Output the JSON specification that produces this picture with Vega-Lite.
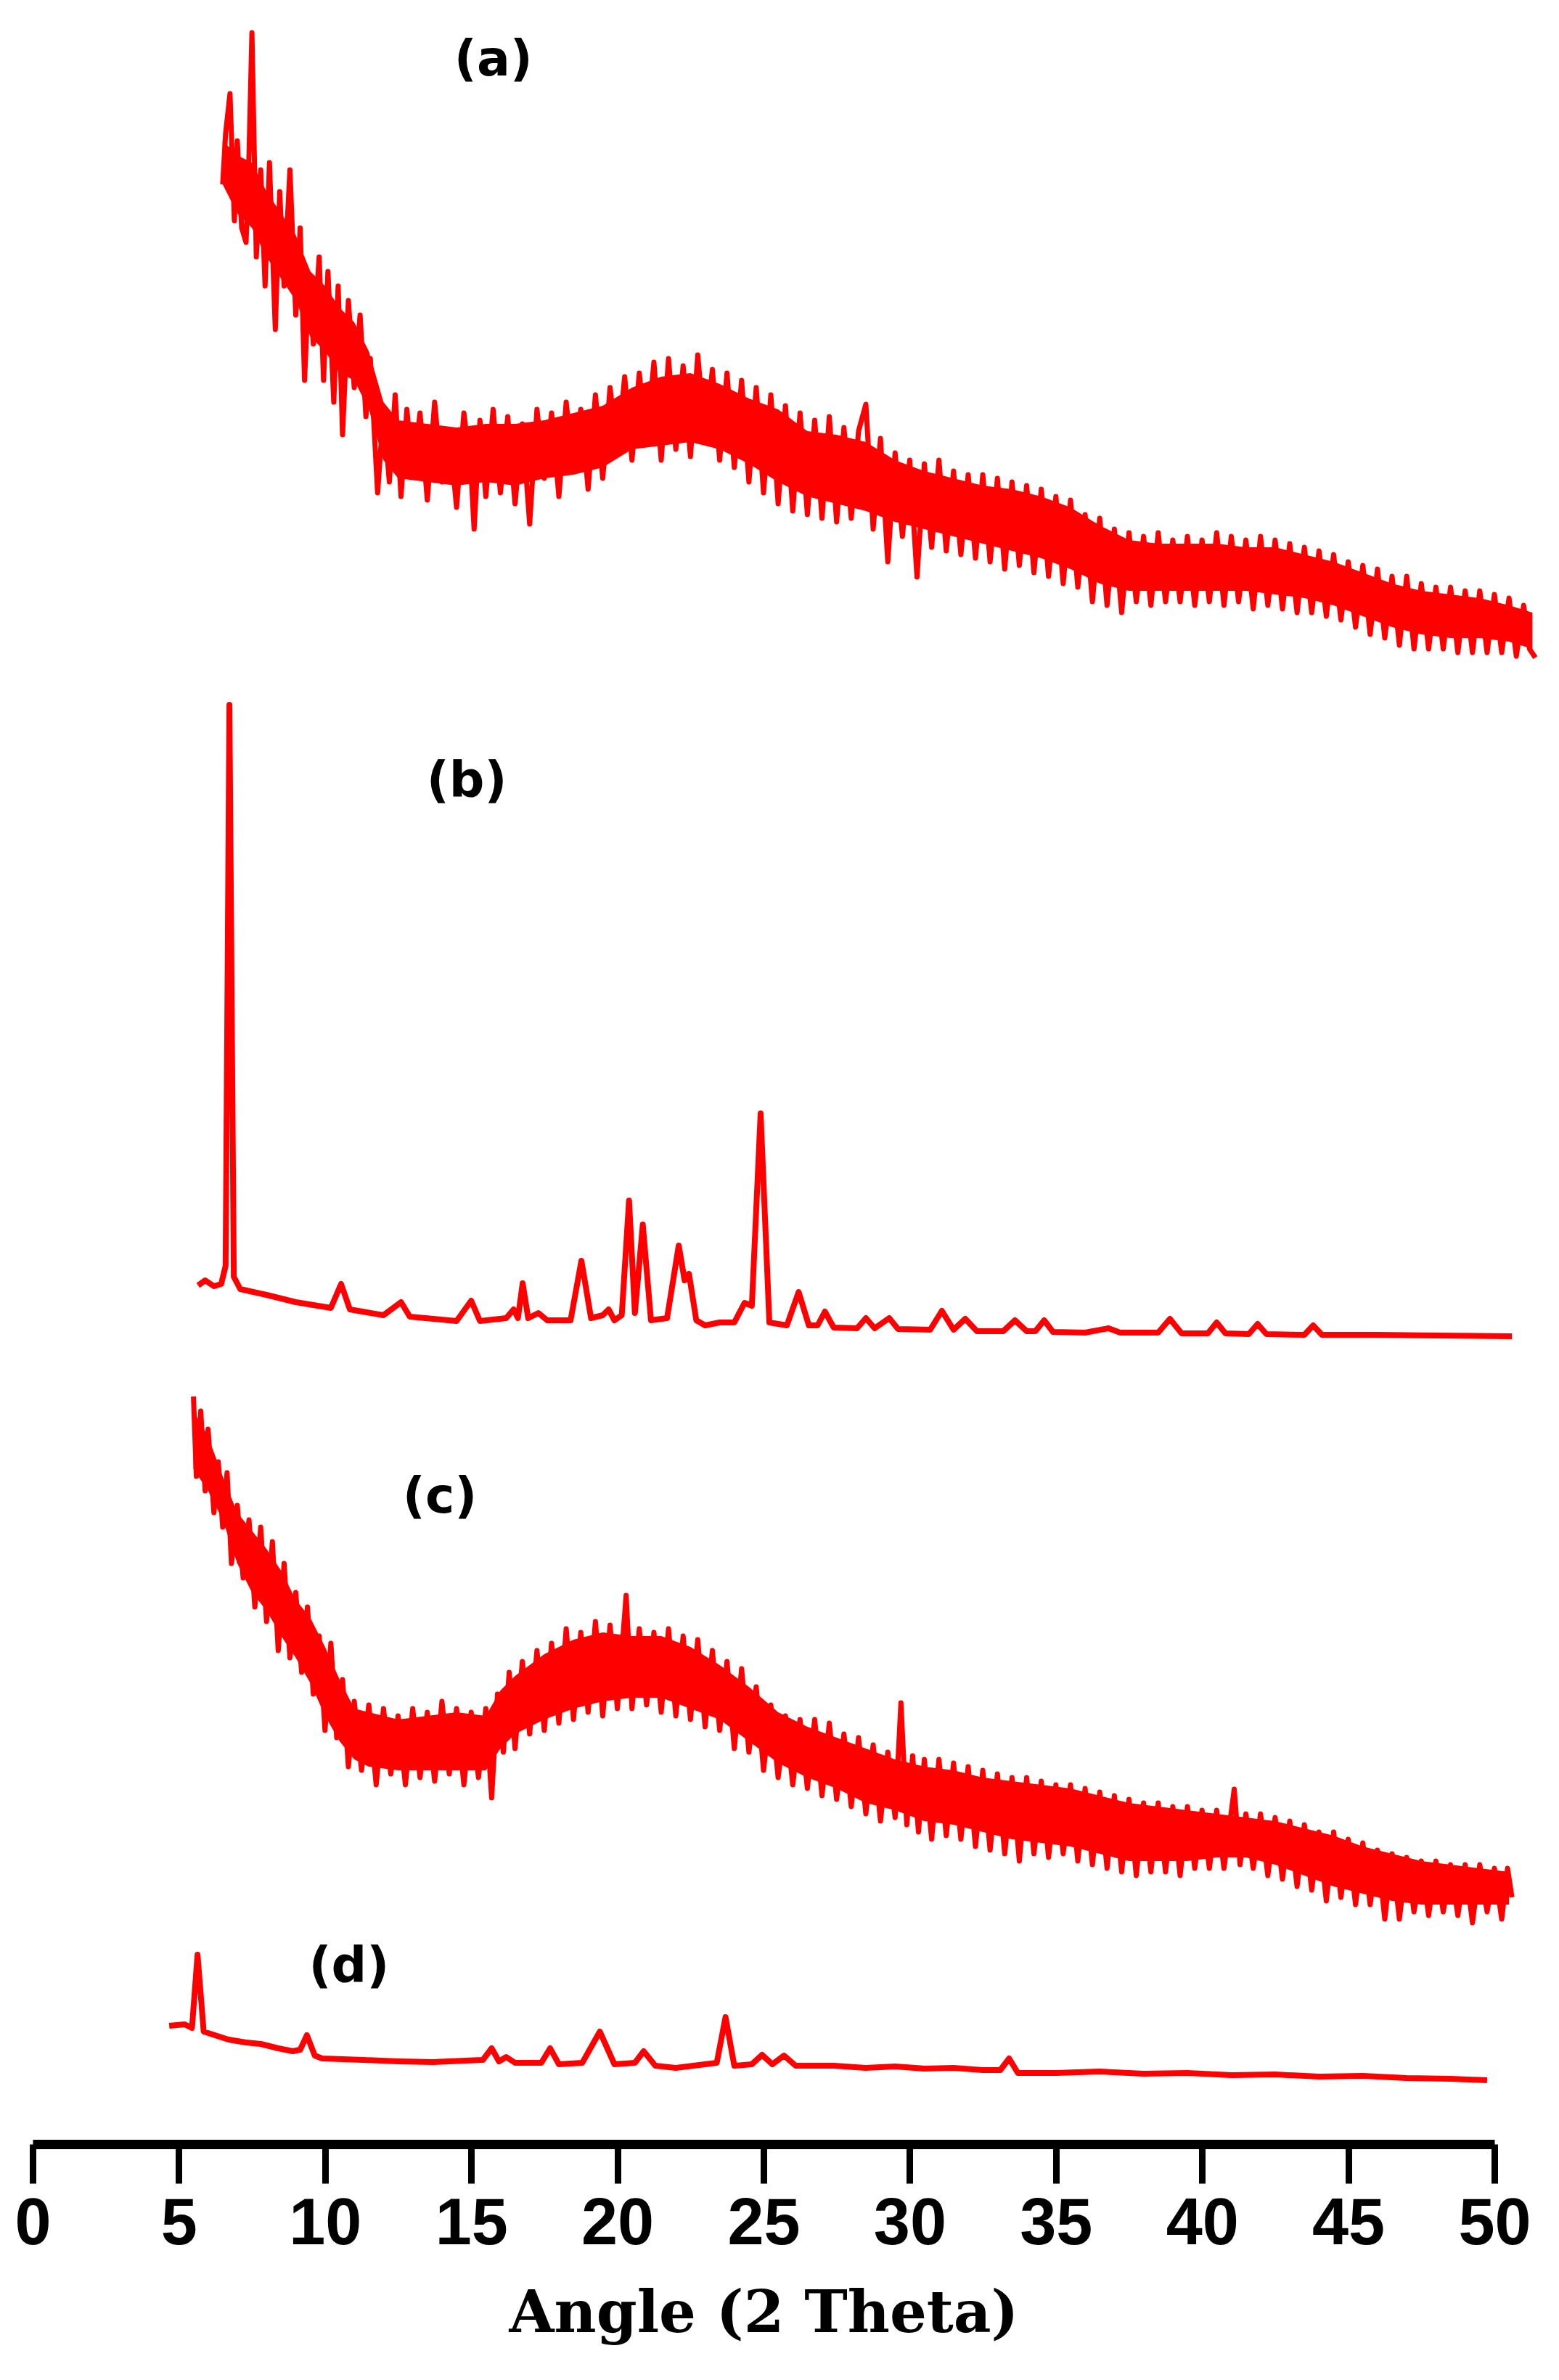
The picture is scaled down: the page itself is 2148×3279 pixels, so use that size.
{
"$schema": "https://vega.github.io/schema/vega-lite/v6.json",
"width": 2014,
"height": 2950,
"autosize": {"type": "none"},
"padding": {"left": 45, "top": 4, "right": 89, "bottom": 325},
"background": "white",
"config": {"view": {"stroke": null}},
"datasets": {
"a": [
{"angle":6.5,"intensity":2700},{"angle":6.6,"intensity":2770},{"angle":6.75,"intensity":2825},{"angle":6.9,"intensity":2650},{"angle":7.0,"intensity":2760},{"angle":7.15,"intensity":2640},{"angle":7.3,"intensity":2620},{"angle":7.4,"intensity":2740},{"angle":7.5,"intensity":2909},{"angle":7.65,"intensity":2600},{"angle":7.8,"intensity":2720},{"angle":7.95,"intensity":2560},{"angle":8.1,"intensity":2730},{"angle":8.3,"intensity":2500},{"angle":8.45,"intensity":2690},{"angle":8.6,"intensity":2560},{"angle":8.8,"intensity":2720},{"angle":9.0,"intensity":2520},{"angle":9.15,"intensity":2640},{"angle":9.3,"intensity":2430},{"angle":9.45,"intensity":2570},{"angle":9.6,"intensity":2480},{"angle":9.8,"intensity":2600},{"angle":9.95,"intensity":2430},{"angle":10.1,"intensity":2580},{"angle":10.3,"intensity":2400},{"angle":10.45,"intensity":2560},{"angle":10.6,"intensity":2355},{"angle":10.8,"intensity":2540},{"angle":11.0,"intensity":2420},{"angle":11.2,"intensity":2520},{"angle":11.4,"intensity":2380},{"angle":11.55,"intensity":2460},{"angle":11.8,"intensity":2275},{"angle":12.0,"intensity":2390},{"angle":12.2,"intensity":2290},{"angle":12.4,"intensity":2410},{"angle":12.6,"intensity":2270},{"angle":12.8,"intensity":2390},{"angle":13.0,"intensity":2300},{"angle":13.25,"intensity":2385},{"angle":13.5,"intensity":2265},{"angle":13.75,"intensity":2400},{"angle":14.0,"intensity":2290},{"angle":14.25,"intensity":2360},{"angle":14.5,"intensity":2255},{"angle":14.75,"intensity":2385},{"angle":15.0,"intensity":2300},{"angle":15.1,"intensity":2225},{"angle":15.3,"intensity":2375},{"angle":15.5,"intensity":2270},{"angle":15.75,"intensity":2390},{"angle":16.0,"intensity":2275},{"angle":16.25,"intensity":2380},{"angle":16.5,"intensity":2260},{"angle":16.75,"intensity":2370},{"angle":17.0,"intensity":2232},{"angle":17.25,"intensity":2390},{"angle":17.5,"intensity":2295},{"angle":17.75,"intensity":2385},{"angle":18.0,"intensity":2270},{"angle":18.25,"intensity":2400},{"angle":18.5,"intensity":2305},{"angle":18.75,"intensity":2390},{"angle":19.0,"intensity":2280},{"angle":19.25,"intensity":2410},{"angle":19.5,"intensity":2295},{"angle":19.75,"intensity":2420},{"angle":20.0,"intensity":2330},{"angle":20.25,"intensity":2435},{"angle":20.5,"intensity":2320},{"angle":20.75,"intensity":2440},{"angle":21.0,"intensity":2345},{"angle":21.25,"intensity":2455},{"angle":21.5,"intensity":2320},{"angle":21.75,"intensity":2460},{"angle":22.0,"intensity":2335},{"angle":22.25,"intensity":2450},{"angle":22.5,"intensity":2325},{"angle":22.75,"intensity":2465},{"angle":23.0,"intensity":2350},{"angle":23.25,"intensity":2445},{"angle":23.5,"intensity":2320},{"angle":23.75,"intensity":2440},{"angle":24.0,"intensity":2310},{"angle":24.25,"intensity":2430},{"angle":24.5,"intensity":2290},{"angle":24.75,"intensity":2420},{"angle":25.0,"intensity":2275},{"angle":25.25,"intensity":2410},{"angle":25.5,"intensity":2260},{"angle":25.75,"intensity":2395},{"angle":26.0,"intensity":2250},{"angle":26.25,"intensity":2385},{"angle":26.5,"intensity":2245},{"angle":26.75,"intensity":2375},{"angle":27.0,"intensity":2240},{"angle":27.25,"intensity":2380},{"angle":27.5,"intensity":2235},{"angle":27.75,"intensity":2365},{"angle":28.0,"intensity":2240},{"angle":28.25,"intensity":2360},{"angle":28.5,"intensity":2397},{"angle":28.75,"intensity":2225},{"angle":29.0,"intensity":2350},{"angle":29.25,"intensity":2180},{"angle":29.5,"intensity":2330},{"angle":29.75,"intensity":2215},{"angle":30.0,"intensity":2320},{"angle":30.25,"intensity":2159},{"angle":30.5,"intensity":2315},{"angle":30.75,"intensity":2200},{"angle":31.0,"intensity":2320},{"angle":31.25,"intensity":2195},{"angle":31.5,"intensity":2305},{"angle":31.75,"intensity":2190},{"angle":32.0,"intensity":2300},{"angle":32.25,"intensity":2185},{"angle":32.5,"intensity":2300},{"angle":32.75,"intensity":2180},{"angle":33.0,"intensity":2295},{"angle":33.25,"intensity":2170},{"angle":33.5,"intensity":2290},{"angle":33.75,"intensity":2175},{"angle":34.0,"intensity":2285},{"angle":34.25,"intensity":2165},{"angle":34.5,"intensity":2280},{"angle":34.75,"intensity":2160},{"angle":35.0,"intensity":2270},{"angle":35.25,"intensity":2150},{"angle":35.5,"intensity":2265},{"angle":35.75,"intensity":2145},{"angle":36.0,"intensity":2245},{"angle":36.25,"intensity":2125},{"angle":36.5,"intensity":2240},{"angle":36.75,"intensity":2120},{"angle":37.0,"intensity":2225},{"angle":37.25,"intensity":2110},{"angle":37.5,"intensity":2220},{"angle":37.75,"intensity":2125},{"angle":38.0,"intensity":2215},{"angle":38.25,"intensity":2120},{"angle":38.5,"intensity":2220},{"angle":38.75,"intensity":2125},{"angle":39.0,"intensity":2210},{"angle":39.25,"intensity":2125},{"angle":39.5,"intensity":2215},{"angle":39.75,"intensity":2120},{"angle":40.0,"intensity":2210},{"angle":40.25,"intensity":2125},{"angle":40.5,"intensity":2220},{"angle":40.75,"intensity":2120},{"angle":41.0,"intensity":2215},{"angle":41.25,"intensity":2125},{"angle":41.5,"intensity":2210},{"angle":41.75,"intensity":2115},{"angle":42.0,"intensity":2215},{"angle":42.25,"intensity":2120},{"angle":42.5,"intensity":2210},{"angle":42.75,"intensity":2115},{"angle":43.0,"intensity":2205},{"angle":43.25,"intensity":2110},{"angle":43.5,"intensity":2200},{"angle":43.75,"intensity":2110},{"angle":44.0,"intensity":2195},{"angle":44.25,"intensity":2105},{"angle":44.5,"intensity":2190},{"angle":44.75,"intensity":2100},{"angle":45.0,"intensity":2180},{"angle":45.25,"intensity":2090},{"angle":45.5,"intensity":2175},{"angle":45.75,"intensity":2080},{"angle":46.0,"intensity":2170},{"angle":46.25,"intensity":2075},{"angle":46.5,"intensity":2160},{"angle":46.75,"intensity":2065},{"angle":47.0,"intensity":2160},{"angle":47.25,"intensity":2060},{"angle":47.5,"intensity":2150},{"angle":47.75,"intensity":2060},{"angle":48.0,"intensity":2145},{"angle":48.25,"intensity":2060},{"angle":48.5,"intensity":2145},{"angle":48.75,"intensity":2055},{"angle":49.0,"intensity":2140},{"angle":49.25,"intensity":2055},{"angle":49.5,"intensity":2140},{"angle":49.75,"intensity":2055},{"angle":50.0,"intensity":2135},{"angle":50.25,"intensity":2055},{"angle":50.5,"intensity":2130},{"angle":50.75,"intensity":2050},{"angle":51.0,"intensity":2120},{"angle":51.2,"intensity":2060},{"angle":51.4,"intensity":2048}
],
"aband": [
{"angle":6.5,"lo":2700,"hi":2760},{"angle":7.0,"lo":2660,"hi":2740},{"angle":7.5,"lo":2640,"hi":2730},{"angle":8.0,"lo":2600,"hi":2690},{"angle":8.5,"lo":2570,"hi":2660},{"angle":9.0,"lo":2540,"hi":2630},{"angle":9.5,"lo":2490,"hi":2580},{"angle":10.0,"lo":2470,"hi":2560},{"angle":10.5,"lo":2440,"hi":2530},{"angle":11.0,"lo":2430,"hi":2510},{"angle":11.5,"lo":2390,"hi":2470},{"angle":12.0,"lo":2320,"hi":2400},{"angle":12.5,"lo":2295,"hi":2375},{"angle":13.5,"lo":2290,"hi":2370},{"angle":14.5,"lo":2285,"hi":2365},{"angle":15.5,"lo":2290,"hi":2370},{"angle":16.5,"lo":2285,"hi":2370},{"angle":17.5,"lo":2295,"hi":2375},{"angle":18.5,"lo":2300,"hi":2385},{"angle":19.5,"lo":2310,"hi":2395},{"angle":20.5,"lo":2335,"hi":2420},{"angle":21.5,"lo":2340,"hi":2435},{"angle":22.5,"lo":2345,"hi":2440},{"angle":23.5,"lo":2335,"hi":2425},{"angle":24.5,"lo":2315,"hi":2405},{"angle":25.5,"lo":2290,"hi":2390},{"angle":26.5,"lo":2270,"hi":2360},{"angle":27.5,"lo":2260,"hi":2355},{"angle":28.5,"lo":2250,"hi":2345},{"angle":29.5,"lo":2235,"hi":2320},{"angle":30.5,"lo":2225,"hi":2305},{"angle":31.5,"lo":2215,"hi":2295},{"angle":32.5,"lo":2205,"hi":2285},{"angle":33.5,"lo":2195,"hi":2280},{"angle":34.5,"lo":2185,"hi":2270},{"angle":35.5,"lo":2170,"hi":2255},{"angle":36.5,"lo":2150,"hi":2230},{"angle":37.5,"lo":2140,"hi":2210},{"angle":38.5,"lo":2140,"hi":2205},{"angle":39.5,"lo":2140,"hi":2205},{"angle":40.5,"lo":2140,"hi":2205},{"angle":41.5,"lo":2140,"hi":2200},{"angle":42.5,"lo":2135,"hi":2200},{"angle":43.5,"lo":2130,"hi":2190},{"angle":44.5,"lo":2120,"hi":2180},{"angle":45.5,"lo":2105,"hi":2165},{"angle":46.5,"lo":2090,"hi":2150},{"angle":47.5,"lo":2080,"hi":2140},{"angle":48.5,"lo":2075,"hi":2135},{"angle":49.5,"lo":2075,"hi":2130},{"angle":50.5,"lo":2070,"hi":2120},{"angle":51.3,"lo":2060,"hi":2110}
],
"b": [
{"angle":5.66,"intensity":1183},{"angle":5.9,"intensity":1190},{"angle":6.2,"intensity":1182},{"angle":6.45,"intensity":1185},{"angle":6.6,"intensity":1210},{"angle":6.73,"intensity":1983},{"angle":6.88,"intensity":1195},{"angle":7.1,"intensity":1178},{"angle":8.0,"intensity":1170},{"angle":9.0,"intensity":1160},{"angle":10.2,"intensity":1152},{"angle":10.55,"intensity":1185},{"angle":10.85,"intensity":1150},{"angle":12.0,"intensity":1142},{"angle":12.6,"intensity":1160},{"angle":12.9,"intensity":1140},{"angle":14.5,"intensity":1134},{"angle":15.0,"intensity":1162},{"angle":15.3,"intensity":1134},{"angle":16.2,"intensity":1138},{"angle":16.45,"intensity":1150},{"angle":16.6,"intensity":1138},{"angle":16.76,"intensity":1186},{"angle":16.95,"intensity":1138},{"angle":17.3,"intensity":1145},{"angle":17.6,"intensity":1135},{"angle":18.4,"intensity":1135},{"angle":18.77,"intensity":1217},{"angle":19.1,"intensity":1138},{"angle":19.5,"intensity":1142},{"angle":19.7,"intensity":1150},{"angle":19.9,"intensity":1135},{"angle":20.15,"intensity":1142},{"angle":20.4,"intensity":1300},{"angle":20.6,"intensity":1145},{"angle":20.87,"intensity":1267},{"angle":21.15,"intensity":1135},{"angle":21.7,"intensity":1138},{"angle":22.1,"intensity":1238},{"angle":22.3,"intensity":1190},{"angle":22.45,"intensity":1199},{"angle":22.7,"intensity":1135},{"angle":23.0,"intensity":1128},{"angle":23.5,"intensity":1132},{"angle":24.0,"intensity":1132},{"angle":24.35,"intensity":1159},{"angle":24.6,"intensity":1155},{"angle":24.9,"intensity":1420},{"angle":25.2,"intensity":1132},{"angle":25.8,"intensity":1128},{"angle":26.2,"intensity":1174},{"angle":26.55,"intensity":1128},{"angle":26.85,"intensity":1128},{"angle":27.1,"intensity":1147},{"angle":27.4,"intensity":1125},{"angle":28.2,"intensity":1124},{"angle":28.5,"intensity":1138},{"angle":28.8,"intensity":1124},{"angle":29.3,"intensity":1138},{"angle":29.6,"intensity":1123},{"angle":30.7,"intensity":1122},{"angle":31.1,"intensity":1148},{"angle":31.5,"intensity":1122},{"angle":31.9,"intensity":1137},{"angle":32.3,"intensity":1120},{"angle":33.2,"intensity":1120},{"angle":33.6,"intensity":1135},{"angle":34.0,"intensity":1120},{"angle":34.3,"intensity":1120},{"angle":34.6,"intensity":1135},{"angle":34.9,"intensity":1119},{"angle":36.0,"intensity":1118},{"angle":36.8,"intensity":1124},{"angle":37.2,"intensity":1118},{"angle":38.5,"intensity":1118},{"angle":38.9,"intensity":1137},{"angle":39.3,"intensity":1117},{"angle":40.2,"intensity":1117},{"angle":40.5,"intensity":1132},{"angle":40.8,"intensity":1117},{"angle":41.6,"intensity":1116},{"angle":41.9,"intensity":1130},{"angle":42.2,"intensity":1116},{"angle":43.5,"intensity":1115},{"angle":43.8,"intensity":1128},{"angle":44.1,"intensity":1115},{"angle":46.0,"intensity":1115},{"angle":48.0,"intensity":1114},{"angle":50.6,"intensity":1113}
],
"c": [
{"angle":5.5,"intensity":1030},{"angle":5.6,"intensity":920},{"angle":5.75,"intensity":1010},{"angle":5.9,"intensity":900},{"angle":6.0,"intensity":985},{"angle":6.2,"intensity":870},{"angle":6.35,"intensity":940},{"angle":6.5,"intensity":850},{"angle":6.65,"intensity":925},{"angle":6.8,"intensity":800},{"angle":7.0,"intensity":880},{"angle":7.2,"intensity":780},{"angle":7.4,"intensity":860},{"angle":7.6,"intensity":740},{"angle":7.8,"intensity":850},{"angle":8.0,"intensity":720},{"angle":8.2,"intensity":830},{"angle":8.4,"intensity":680},{"angle":8.6,"intensity":800},{"angle":8.8,"intensity":670},{"angle":9.0,"intensity":760},{"angle":9.2,"intensity":650},{"angle":9.4,"intensity":740},{"angle":9.6,"intensity":620},{"angle":9.8,"intensity":700},{"angle":10.0,"intensity":570},{"angle":10.2,"intensity":690},{"angle":10.4,"intensity":560},{"angle":10.6,"intensity":640},{"angle":10.8,"intensity":520},{"angle":11.0,"intensity":610},{"angle":11.25,"intensity":515},{"angle":11.5,"intensity":605},{"angle":11.75,"intensity":495},{"angle":12.0,"intensity":600},{"angle":12.25,"intensity":510},{"angle":12.5,"intensity":590},{"angle":12.75,"intensity":495},{"angle":13.0,"intensity":600},{"angle":13.25,"intensity":505},{"angle":13.5,"intensity":595},{"angle":13.75,"intensity":500},{"angle":14.0,"intensity":610},{"angle":14.25,"intensity":510},{"angle":14.5,"intensity":600},{"angle":14.75,"intensity":495},{"angle":15.0,"intensity":595},{"angle":15.25,"intensity":505},{"angle":15.5,"intensity":600},{"angle":15.7,"intensity":477},{"angle":15.9,"intensity":620},{"angle":16.1,"intensity":540},{"angle":16.3,"intensity":650},{"angle":16.5,"intensity":545},{"angle":16.75,"intensity":665},{"angle":17.0,"intensity":565},{"angle":17.25,"intensity":680},{"angle":17.5,"intensity":570},{"angle":17.75,"intensity":690},{"angle":18.0,"intensity":580},{"angle":18.25,"intensity":710},{"angle":18.5,"intensity":585},{"angle":18.75,"intensity":705},{"angle":19.0,"intensity":595},{"angle":19.25,"intensity":720},{"angle":19.5,"intensity":590},{"angle":19.75,"intensity":715},{"angle":20.0,"intensity":600},{"angle":20.3,"intensity":756},{"angle":20.5,"intensity":600},{"angle":20.75,"intensity":710},{"angle":21.0,"intensity":605},{"angle":21.25,"intensity":705},{"angle":21.5,"intensity":595},{"angle":21.75,"intensity":710},{"angle":22.0,"intensity":590},{"angle":22.25,"intensity":700},{"angle":22.5,"intensity":585},{"angle":22.75,"intensity":695},{"angle":23.0,"intensity":575},{"angle":23.25,"intensity":680},{"angle":23.5,"intensity":570},{"angle":23.75,"intensity":665},{"angle":24.0,"intensity":545},{"angle":24.25,"intensity":655},{"angle":24.5,"intensity":540},{"angle":24.75,"intensity":630},{"angle":25.0,"intensity":515},{"angle":25.25,"intensity":605},{"angle":25.5,"intensity":505},{"angle":25.75,"intensity":590},{"angle":26.0,"intensity":495},{"angle":26.25,"intensity":585},{"angle":26.5,"intensity":490},{"angle":26.75,"intensity":585},{"angle":27.0,"intensity":480},{"angle":27.25,"intensity":580},{"angle":27.5,"intensity":475},{"angle":27.75,"intensity":565},{"angle":28.0,"intensity":465},{"angle":28.25,"intensity":560},{"angle":28.5,"intensity":455},{"angle":28.75,"intensity":550},{"angle":29.0,"intensity":445},{"angle":29.25,"intensity":540},{"angle":29.5,"intensity":450},{"angle":29.7,"intensity":608},{"angle":29.9,"intensity":440},{"angle":30.1,"intensity":535},{"angle":30.3,"intensity":430},{"angle":30.5,"intensity":530},{"angle":30.75,"intensity":420},{"angle":31.0,"intensity":530},{"angle":31.25,"intensity":425},{"angle":31.5,"intensity":525},{"angle":31.75,"intensity":420},{"angle":32.0,"intensity":520},{"angle":32.25,"intensity":410},{"angle":32.5,"intensity":515},{"angle":32.75,"intensity":405},{"angle":33.0,"intensity":510},{"angle":33.25,"intensity":400},{"angle":33.5,"intensity":505},{"angle":33.75,"intensity":390},{"angle":34.0,"intensity":505},{"angle":34.25,"intensity":400},{"angle":34.5,"intensity":500},{"angle":34.75,"intensity":395},{"angle":35.0,"intensity":495},{"angle":35.25,"intensity":400},{"angle":35.5,"intensity":495},{"angle":35.75,"intensity":390},{"angle":36.0,"intensity":490},{"angle":36.25,"intensity":385},{"angle":36.5,"intensity":485},{"angle":36.75,"intensity":380},{"angle":37.0,"intensity":480},{"angle":37.25,"intensity":375},{"angle":37.5,"intensity":475},{"angle":37.75,"intensity":370},{"angle":38.0,"intensity":470},{"angle":38.25,"intensity":375},{"angle":38.5,"intensity":470},{"angle":38.75,"intensity":375},{"angle":39.0,"intensity":465},{"angle":39.25,"intensity":370},{"angle":39.5,"intensity":465},{"angle":39.75,"intensity":380},{"angle":40.0,"intensity":460},{"angle":40.25,"intensity":380},{"angle":40.5,"intensity":460},{"angle":40.75,"intensity":380},{"angle":41.1,"intensity":489},{"angle":41.3,"intensity":385},{"angle":41.5,"intensity":455},{"angle":41.75,"intensity":380},{"angle":42.0,"intensity":455},{"angle":42.25,"intensity":370},{"angle":42.5,"intensity":450},{"angle":42.75,"intensity":365},{"angle":43.0,"intensity":445},{"angle":43.25,"intensity":355},{"angle":43.5,"intensity":440},{"angle":43.75,"intensity":350},{"angle":44.0,"intensity":430},{"angle":44.25,"intensity":335},{"angle":44.5,"intensity":430},{"angle":44.75,"intensity":340},{"angle":45.0,"intensity":420},{"angle":45.25,"intensity":330},{"angle":45.5,"intensity":415},{"angle":45.75,"intensity":330},{"angle":46.0,"intensity":405},{"angle":46.25,"intensity":310},{"angle":46.5,"intensity":400},{"angle":46.75,"intensity":310},{"angle":47.0,"intensity":395},{"angle":47.25,"intensity":320},{"angle":47.5,"intensity":390},{"angle":47.75,"intensity":315},{"angle":48.0,"intensity":390},{"angle":48.25,"intensity":320},{"angle":48.5,"intensity":385},{"angle":48.75,"intensity":315},{"angle":49.0,"intensity":385},{"angle":49.25,"intensity":305},{"angle":49.5,"intensity":385},{"angle":49.75,"intensity":320},{"angle":50.0,"intensity":380},{"angle":50.25,"intensity":310},{"angle":50.45,"intensity":380},{"angle":50.6,"intensity":340}
],
"cband": [
{"angle":5.5,"lo":930,"hi":1010},{"angle":6.0,"lo":900,"hi":975},{"angle":6.5,"lo":860,"hi":920},{"angle":7.0,"lo":800,"hi":870},{"angle":7.5,"lo":760,"hi":845},{"angle":8.0,"lo":735,"hi":820},{"angle":8.5,"lo":700,"hi":790},{"angle":9.0,"lo":670,"hi":750},{"angle":9.5,"lo":635,"hi":725},{"angle":10.0,"lo":590,"hi":685},{"angle":10.5,"lo":555,"hi":640},{"angle":11.0,"lo":530,"hi":600},{"angle":11.5,"lo":520,"hi":595},{"angle":12.5,"lo":515,"hi":585},{"angle":13.5,"lo":515,"hi":590},{"angle":14.5,"lo":515,"hi":595},{"angle":15.5,"lo":515,"hi":590},{"angle":16.0,"lo":545,"hi":625},{"angle":16.5,"lo":565,"hi":645},{"angle":17.5,"lo":585,"hi":675},{"angle":18.5,"lo":600,"hi":695},{"angle":19.5,"lo":610,"hi":705},{"angle":20.5,"lo":615,"hi":700},{"angle":21.5,"lo":615,"hi":700},{"angle":22.5,"lo":600,"hi":685},{"angle":23.5,"lo":585,"hi":660},{"angle":24.5,"lo":555,"hi":630},{"angle":25.5,"lo":525,"hi":595},{"angle":26.5,"lo":505,"hi":575},{"angle":27.5,"lo":490,"hi":560},{"angle":28.5,"lo":470,"hi":545},{"angle":29.5,"lo":460,"hi":530},{"angle":30.5,"lo":445,"hi":520},{"angle":31.5,"lo":440,"hi":515},{"angle":32.5,"lo":430,"hi":505},{"angle":33.5,"lo":420,"hi":500},{"angle":34.5,"lo":415,"hi":495},{"angle":35.5,"lo":410,"hi":490},{"angle":36.5,"lo":400,"hi":480},{"angle":37.5,"lo":390,"hi":470},{"angle":38.5,"lo":390,"hi":465},{"angle":39.5,"lo":390,"hi":460},{"angle":40.5,"lo":395,"hi":455},{"angle":41.5,"lo":395,"hi":450},{"angle":42.5,"lo":385,"hi":445},{"angle":43.5,"lo":370,"hi":435},{"angle":44.5,"lo":355,"hi":425},{"angle":45.5,"lo":345,"hi":410},{"angle":46.5,"lo":335,"hi":400},{"angle":47.5,"lo":330,"hi":390},{"angle":48.5,"lo":330,"hi":385},{"angle":49.5,"lo":330,"hi":380},{"angle":50.5,"lo":330,"hi":375}
],
"d": [
{"angle":4.67,"intensity":163},{"angle":5.2,"intensity":165},{"angle":5.45,"intensity":160},{"angle":5.64,"intensity":261},{"angle":5.85,"intensity":155},{"angle":6.7,"intensity":144},{"angle":7.3,"intensity":140},{"angle":7.8,"intensity":138},{"angle":8.4,"intensity":132},{"angle":8.9,"intensity":128},{"angle":9.15,"intensity":130},{"angle":9.38,"intensity":150},{"angle":9.65,"intensity":122},{"angle":9.9,"intensity":118},{"angle":11.3,"intensity":116},{"angle":12.5,"intensity":114},{"angle":13.7,"intensity":113},{"angle":14.8,"intensity":115},{"angle":15.4,"intensity":116},{"angle":15.7,"intensity":132},{"angle":15.95,"intensity":114},{"angle":16.2,"intensity":120},{"angle":16.5,"intensity":112},{"angle":17.4,"intensity":112},{"angle":17.7,"intensity":132},{"angle":18.0,"intensity":110},{"angle":18.8,"intensity":112},{"angle":19.4,"intensity":155},{"angle":19.9,"intensity":110},{"angle":20.6,"intensity":112},{"angle":20.9,"intensity":128},{"angle":21.3,"intensity":108},{"angle":22.0,"intensity":105},{"angle":23.0,"intensity":110},{"angle":23.4,"intensity":112},{"angle":23.7,"intensity":175},{"angle":24.0,"intensity":108},{"angle":24.6,"intensity":110},{"angle":24.95,"intensity":123},{"angle":25.3,"intensity":110},{"angle":25.7,"intensity":122},{"angle":26.1,"intensity":108},{"angle":27.4,"intensity":108},{"angle":28.5,"intensity":105},{"angle":29.5,"intensity":107},{"angle":30.5,"intensity":104},{"angle":31.5,"intensity":105},{"angle":32.5,"intensity":102},{"angle":33.1,"intensity":102},{"angle":33.4,"intensity":118},{"angle":33.7,"intensity":98},{"angle":35.0,"intensity":98},{"angle":36.5,"intensity":100},{"angle":38.0,"intensity":97},{"angle":39.5,"intensity":98},{"angle":41.0,"intensity":95},{"angle":42.5,"intensity":96},{"angle":44.0,"intensity":93},{"angle":45.5,"intensity":94},{"angle":47.0,"intensity":91},{"angle":48.5,"intensity":90},{"angle":49.75,"intensity":88}
],
"labels": [
{"angle":15.76,"intensity":2870,"label":"(a)"},
{"angle":14.85,"intensity":1876,"label":"(b)"},
{"angle":13.93,"intensity":890,"label":"(c)"},
{"angle":10.82,"intensity":243,"label":"(d)"}
]
},
"encoding": {
"x": {"field": "angle", "type": "quantitative",
"scale": {"domain": [0, 50], "nice": false, "zero": false},
"axis": {"title": "Angle (2 Theta)", "values": [0,5,10,15,20,25,30,35,40,45,50], "grid": false,
"domainWidth": 13, "domainColor": "#000000", "tickColor": "#000000", "tickWidth": 9, "tickSize": 54,
"labelFont": "Liberation Sans", "labelFontSize": 90, "labelFontWeight": "bold", "labelColor": "#000000",
"labelPadding": 12, "labelFlush": false, "labelOverlap": false,
"titleFont": "DejaVu Serif", "titleFontSize": 80, "titleFontWeight": "bold", "titleColor": "#000000", "titlePadding": 40}},
"y": {"field": "intensity", "type": "quantitative",
"scale": {"domain": [0, 2950], "nice": false, "zero": false}, "axis": null}
},
"layer": [
{"data": {"name": "aband"}, "mark": {"type": "area", "color": "#ff0000", "opacity": 1},
"encoding": {"y": {"field": "lo", "type": "quantitative"}, "y2": {"field": "hi"}}},
{"data": {"name": "cband"}, "mark": {"type": "area", "color": "#ff0000", "opacity": 1},
"encoding": {"y": {"field": "lo", "type": "quantitative"}, "y2": {"field": "hi"}}},
{"data": {"name": "a"}, "mark": {"type": "line", "color": "#ff0000", "strokeWidth": 7, "strokeJoin": "round"}},
{"data": {"name": "b"}, "mark": {"type": "line", "color": "#ff0000", "strokeWidth": 8, "strokeJoin": "round"}},
{"data": {"name": "c"}, "mark": {"type": "line", "color": "#ff0000", "strokeWidth": 7, "strokeJoin": "round"}},
{"data": {"name": "d"}, "mark": {"type": "line", "color": "#ff0000", "strokeWidth": 8, "strokeJoin": "round"}},
{"data": {"name": "labels"}, "mark": {"type": "text", "font": "DejaVu Sans", "fontWeight": "bold", "fontSize": 68, "color": "#000000", "align": "center", "baseline": "middle"},
"encoding": {"text": {"field": "label", "type": "nominal"}}}
]
}
